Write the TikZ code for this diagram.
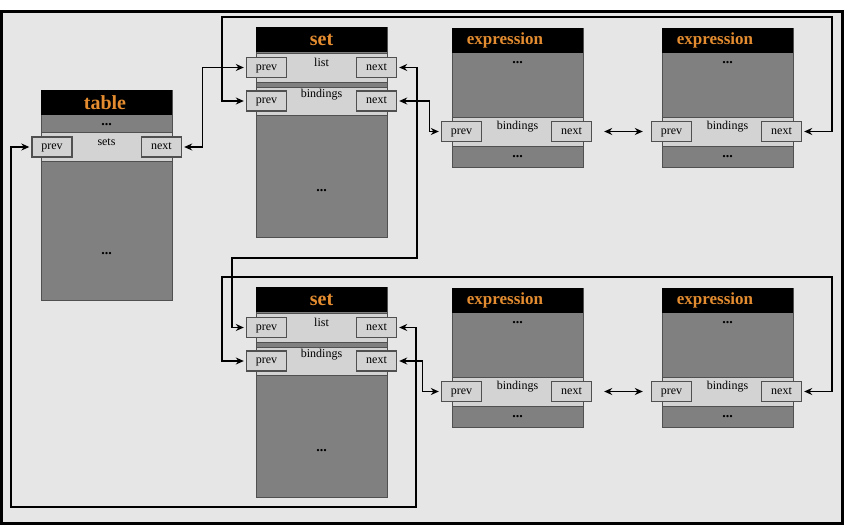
\documentclass[tikz,border=0pt]{standalone}
\usepackage{fontspec}
\setmainfont{Liberation Serif}
\usetikzlibrary{arrows.meta}
\definecolor{bgC}{RGB}{230,230,230}
\definecolor{bodyC}{RGB}{128,128,128}
\definecolor{rowC}{RGB}{211,211,211}
\definecolor{edgeC}{RGB}{80,80,80}
\definecolor{orangeC}{RGB}{228,140,48}
\newcommand\hdrfont{\bfseries\fontsize{20}{20}\selectfont}
\newcommand\exprfont{\bfseries\fontsize{17}{17}\selectfont}
\tikzset{
  blockbody/.style={draw=edgeC, line width=1pt, fill=bodyC, anchor=north west, inner sep=0pt, minimum width=131pt},
  blockhead/.style={fill=black, anchor=north west, inner sep=0pt, minimum height=25pt},
  headtxt/.style={text=orangeC, inner sep=0pt},
  rowbox/.style={draw=edgeC, line width=1pt, fill=rowC, anchor=north west, inner sep=0pt, minimum width=131pt},
  rowlbl/.style={inner sep=0pt, font=\fontsize{12}{12}\selectfont},
  ptr/.style={draw=edgeC, line width=1.4pt, fill=rowC, inner sep=0pt, minimum width=40pt, minimum height=20pt, text height=7.5pt, text depth=1.5pt, font=\fontsize{12}{12}\selectfont},
  dots/.style={inner sep=0pt, text height=2.5pt, text depth=0pt, font=\bfseries\fontsize{14}{14}\selectfont},
  link/.style={draw=black, line width=1.2pt, {Stealth[length=8pt,width=7pt]}-{Stealth[length=8pt,width=7pt]}, shorten <=2pt, shorten >=2pt}
}
\newcommand\exprblk[3]{%
\begin{scope}[shift={(#2,#3)}]
 \node[blockbody, minimum height=139pt] (#1) at (0,0) {};
 \node[blockhead, minimum width=131pt] (#1h) at (0,0) {};
 \node[headtxt, font=\exprfont] (#1t) at (53,12.5) {expression};
 \node[dots] (#1d1) at (65.5,34) {...};
 \node[rowbox, minimum height=29pt] (#1r) at (0,89) {};
 \node[rowlbl] (#1l) at (65.5,99) {bindings};
 \node[ptr] (#1p) at (9.5,103.5) {prev};
 \node[ptr] (#1n) at (119.5,103.5) {next};
 \node[dots] (#1d2) at (65.5,128) {...};
\end{scope}}
\newcommand\setblk[3]{%
\begin{scope}[shift={(#2,#3)}]
 \node[blockbody, minimum height=210pt] (#1) at (0,0) {};
 \node[blockhead, minimum width=131pt] (#1h) at (0,0) {};
 \node[headtxt, font=\hdrfont] (#1t) at (65.5,12.5) {set};
 \node[rowbox, minimum height=29pt] (#1r1) at (0,26) {};
 \node[rowbox, minimum height=28pt] (#1r2) at (0,60) {};
 \node[rowlbl] (#1l1) at (65.5,35) {list};
 \node[rowlbl] (#1l2) at (65.5,68) {bindings};
 \node[ptr] (#1lp) at (10.5,40.5) {prev};
 \node[ptr] (#1ln) at (120.5,40.5) {next};
 \node[ptr] (#1bp) at (10.5,74) {prev};
 \node[ptr] (#1bn) at (120.5,74) {next};
 \node[dots] (#1d) at (65.5,163) {...};
\end{scope}}
\begin{document}
\begin{tikzpicture}[x=1pt,y=-1pt]
\useasboundingbox (0,0) rectangle (844,526);
\fill[white] (0,0) rectangle (844,526);
\draw[line width=3pt, fill=bgC] (1.5,12) rectangle (842,523.5);
% table
\begin{scope}[shift={(41,90)}]
 \node[blockbody, minimum height=210pt] (tab) at (0,0) {};
 \node[blockhead, minimum width=131pt] (tabh) at (0,0) {};
 \node[headtxt, font=\hdrfont] (tabt) at (64,12.5) {table};
 \node[dots] (tabd1) at (65.5,34) {...};
 \node[rowbox, minimum height=29pt] (tabr) at (0,42) {};
 \node[rowlbl] (tabl) at (65.5,52) {sets};
 \node[ptr] (tabp) at (11,57) {prev};
 \node[ptr] (tabn) at (120.5,57) {next};
 \node[dots] (tabd2) at (65.5,163) {...};
\end{scope}
\setblk{sa}{256}{27}
\setblk{sb}{256}{287}
\exprblk{ea}{452}{28}
\exprblk{eb}{662}{28}
\exprblk{ec}{452}{288}
\exprblk{ed}{662}{288}
% coordinates
\coordinate (topR) at (832,17);
\coordinate (topL) at (222,17);
\coordinate (midR) at (832,277);
\coordinate (midL) at (222,277);
\coordinate (m1) at (417,258);
\coordinate (m2) at (232,258);
\coordinate (b1) at (416,507);
\coordinate (b2) at (11,507);
% links
\draw[link] (tabn.east) -- ++(20,0) |- (salp.west);
\draw[link] (ebn.east) -| (topR) -- (topL) |- (sabp.west);
\draw[link] (sabn.east) -- ++(32,0) |- (eap.west);
\draw[link] (saln.east) -| (m1) -- (m2) |- (sblp.west);
\draw[link, shorten <=12pt, shorten >=8pt] (ean.east) -- (ebp.west);
\draw[link] (edn.east) -| (midR) -- (midL) |- (sbbp.west);
\draw[link] (sbbn.east) -- ++(25,0) |- (ecp.west);
\draw[link, shorten <=12pt, shorten >=8pt] (ecn.east) -- (edp.west);
\draw[link] (sbln.east) -| (b1) -- (b2) |- (tabp.west);
\end{tikzpicture}
\end{document}
